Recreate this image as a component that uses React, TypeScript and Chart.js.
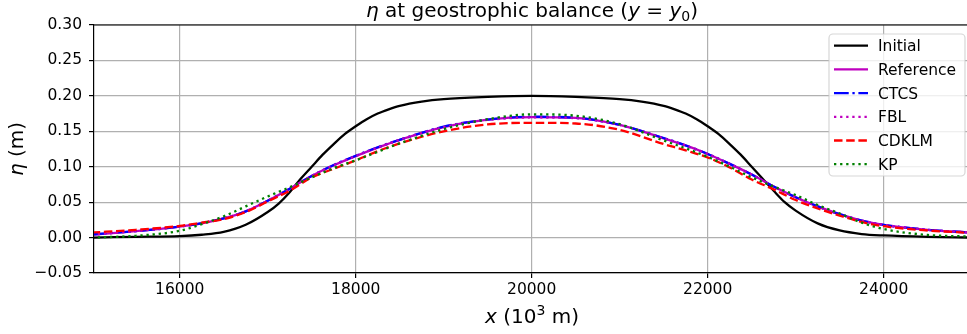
import React, { useEffect, useRef } from 'react';
import { Chart, registerables } from 'chart.js';

Chart.register(...registerables);

// ---- data ----
const xInitial = [15000, 15500, 16000, 16250, 16500, 16750, 17000, 17125, 17250, 17375, 17500, 17625, 17750, 17875, 18000, 18125, 18250, 18375, 18500, 18750, 19000, 19500, 20000, 20500, 21000, 21250, 21500, 21625, 21750, 21875, 22000, 22125, 22250, 22375, 22500, 22625, 22750, 22875, 23000, 23250, 23500, 23750, 24000, 24500, 25000];
const initialEta = [0.000, 0.001, 0.002, 0.004, 0.008, 0.018, 0.036, 0.048, 0.064, 0.083, 0.100, 0.117, 0.132, 0.146, 0.157, 0.167, 0.175, 0.181, 0.186, 0.192, 0.1955, 0.1985, 0.200, 0.1985, 0.1955, 0.192, 0.186, 0.181, 0.175, 0.167, 0.157, 0.146, 0.132, 0.117, 0.100, 0.083, 0.066, 0.050, 0.038, 0.020, 0.010, 0.005, 0.003, 0.001, 0.000];

const xValues = [15000, 15500, 16000, 16250, 16500, 16750, 17000, 17250, 17500, 17750, 18000, 18250, 18500, 19000, 19500, 20000, 20500, 21000, 21500, 21750, 22000, 22250, 22500, 22750, 23000, 23250, 23500, 23750, 24000, 24500, 25000];
const referenceEta = [0.004, 0.009, 0.0155, 0.020, 0.027, 0.037, 0.052, 0.069, 0.087, 0.102, 0.115, 0.127, 0.138, 0.156, 0.1665, 0.170, 0.169, 0.159, 0.140, 0.130, 0.118, 0.104, 0.089, 0.072, 0.057, 0.044, 0.033, 0.024, 0.018, 0.011, 0.007];
const ctcsEta = [0.0045, 0.009, 0.0155, 0.0205, 0.027, 0.037, 0.052, 0.069, 0.087, 0.1025, 0.1155, 0.1275, 0.138, 0.1565, 0.1665, 0.1705, 0.169, 0.159, 0.1405, 0.130, 0.118, 0.104, 0.089, 0.072, 0.057, 0.044, 0.033, 0.024, 0.018, 0.011, 0.007];
const fblEta = [0.004, 0.009, 0.0155, 0.020, 0.027, 0.037, 0.052, 0.069, 0.087, 0.102, 0.115, 0.127, 0.138, 0.156, 0.166, 0.1695, 0.1685, 0.159, 0.140, 0.130, 0.118, 0.104, 0.089, 0.072, 0.057, 0.044, 0.033, 0.024, 0.018, 0.011, 0.007];
const cdklmEta = [0.007, 0.011, 0.0164, 0.021, 0.026, 0.036, 0.051, 0.066, 0.085, 0.097, 0.109, 0.122, 0.133, 0.150, 0.1597, 0.162, 0.161, 0.152, 0.132, 0.123, 0.113, 0.099, 0.082, 0.068, 0.053, 0.041, 0.031, 0.022, 0.016, 0.010, 0.0065];
const kpEta = [0.000, 0.0025, 0.0095, 0.019, 0.030, 0.044, 0.058, 0.071, 0.085, 0.098, 0.109, 0.121, 0.133, 0.153, 0.167, 0.174, 0.172, 0.160, 0.137, 0.126, 0.114, 0.100, 0.085, 0.072, 0.060, 0.046, 0.034, 0.021, 0.012, 0.0037, 0.0015];

const seriesLabels = ['Initial', 'Reference', 'CTCS', 'FBL', 'CDKLM', 'KP'];
const xTicks = [16000, 18000, 20000, 22000, 24000];
const xTickLabels = ['16000', '18000', '20000', '22000', '24000'];
const yTicks = [-0.05, 0, 0.05, 0.1, 0.15, 0.2, 0.25, 0.3];
const yTickLabels = ['\u22120.05', '0.00', '0.05', '0.10', '0.15', '0.20', '0.25', '0.30'];
const xMin = 15026;
const xMax = 24947;
const yMin = -0.05;
const yMax = 0.3;

const FONT = '"DejaVu Sans", sans-serif';
const LW = 2.3;

type Run = { text: string; font: string; dy?: number };

function drawRuns(ctx: CanvasRenderingContext2D, runs: Run[], x: number, y: number) {
  let total = 0;
  for (const r of runs) {
    ctx.font = r.font;
    total += ctx.measureText(r.text).width;
  }
  let cx = x - total / 2;
  for (const r of runs) {
    ctx.font = r.font;
    ctx.fillText(r.text, cx, y + (r.dy || 0));
    cx += ctx.measureText(r.text).width;
  }
}

const decorPlugin = {
  id: 'decor',
  afterDraw(chart: any) {
    const ctx: CanvasRenderingContext2D = chart.ctx;
    const a = chart.chartArea;
    ctx.save();
    // top spine
    ctx.strokeStyle = '#000';
    ctx.lineWidth = 1.2;
    ctx.setLineDash([]);
    ctx.beginPath();
    ctx.moveTo(a.left - 0.6, a.top);
    ctx.lineTo(a.right, a.top);
    ctx.stroke();

    // legend
    const bx = 829, by = 34, bw = 136, bh = 142, rad = 4;
    ctx.beginPath();
    ctx.moveTo(bx + rad, by);
    ctx.lineTo(bx + bw - rad, by);
    ctx.arcTo(bx + bw, by, bx + bw, by + rad, rad);
    ctx.lineTo(bx + bw, by + bh - rad);
    ctx.arcTo(bx + bw, by + bh, bx + bw - rad, by + bh, rad);
    ctx.lineTo(bx + rad, by + bh);
    ctx.arcTo(bx, by + bh, bx, by + bh - rad, rad);
    ctx.lineTo(bx, by + rad);
    ctx.arcTo(bx, by, bx + rad, by, rad);
    ctx.closePath();
    ctx.fillStyle = 'rgba(255,255,255,0.8)';
    ctx.fill();
    ctx.strokeStyle = 'rgba(204,204,204,0.8)';
    ctx.lineWidth = 1.2;
    ctx.stroke();

    const rowY0 = 45.7, rowStep = 23.7;
    chart.data.datasets.forEach((ds: any, i: number) => {
      const ry = rowY0 + i * rowStep;
      ctx.strokeStyle = ds.borderColor;
      ctx.lineWidth = ds.borderWidth;
      ctx.setLineDash(ds.borderDash || []);
      ctx.lineCap = 'butt';
      ctx.beginPath();
      ctx.moveTo(834, ry);
      ctx.lineTo(868, ry);
      ctx.stroke();
      ctx.setLineDash([]);
      ctx.fillStyle = '#000';
      ctx.font = `15.5px ${FONT}`;
      ctx.textAlign = 'left';
      ctx.textBaseline = 'alphabetic';
      ctx.fillText(ds.label, 878, ry + 5.6);
    });

    // title
    ctx.fillStyle = '#000';
    ctx.textAlign = 'left';
    ctx.textBaseline = 'alphabetic';
    const big = `20px ${FONT}`;
    const bigI = `italic 20px ${FONT}`;
    const small = `14px ${FONT}`;
    drawRuns(ctx, [
      { text: '\u03b7', font: bigI },
      { text: ' at geostrophic balance (', font: big },
      { text: 'y', font: bigI },
      { text: ' = ', font: big },
      { text: 'y', font: bigI },
      { text: '0', font: small, dy: 4 },
      { text: ')', font: big },
    ], 532, 16.7);

    // x label
    drawRuns(ctx, [
      { text: 'x', font: bigI },
      { text: ' (10', font: big },
      { text: '3', font: small, dy: -8 },
      { text: ' m)', font: big },
    ], 532, 322.7);

    // y label
    ctx.translate(22.5, 149);
    ctx.rotate(-Math.PI / 2);
    drawRuns(ctx, [
      { text: '\u03b7', font: bigI },
      { text: ' (m)', font: big },
    ], 0, 0);
    ctx.restore();
  },
};

function toPoints(xs: number[], ys: number[]) {
  return xs.map((x, i) => ({ x, y: ys[i] }));
}

export default function App() {
  const ref = useRef<HTMLCanvasElement | null>(null);

  useEffect(() => {
    if (!ref.current) return;
    const styles = [
      { color: '#000000', dash: [] as number[], xs: xInitial, data: initialEta },
      { color: '#bf00bf', dash: [] as number[], xs: xValues, data: referenceEta },
      { color: '#0000ff', dash: [6.4 * LW, 1.6 * LW, 1 * LW, 1.6 * LW], xs: xValues, data: ctcsEta },
      { color: '#bf00bf', dash: [1 * LW, 1.65 * LW], xs: xValues, data: fblEta },
      { color: '#ff0000', dash: [3.7 * LW, 1.6 * LW], xs: xValues, data: cdklmEta },
      { color: '#008000', dash: [1 * LW, 1.65 * LW], xs: xValues, data: kpEta },
    ];
    const datasets = styles.map((s, i) => ({
      label: seriesLabels[i],
      data: toPoints(s.xs, s.data),
      borderColor: s.color,
      backgroundColor: s.color,
      borderWidth: LW,
      borderDash: s.dash,
      borderCapStyle: 'butt' as const,
      pointRadius: 0,
      fill: false,
      cubicInterpolationMode: 'monotone' as const,
      order: styles.length - i,
    }));

    const chart = new Chart(ref.current, {
      type: 'line',
      data: { datasets },
      options: {
        animation: false,
        responsive: false,
        devicePixelRatio: 1,
        parsing: false,
        layout: { padding: { top: 25, left: 0, right: 0, bottom: 0 } },
        plugins: {
          legend: { display: false },
          title: { display: false },
          tooltip: { enabled: false },
        },
        scales: {
          x: {
            type: 'linear',
            min: xMin,
            max: xMax,
            afterBuildTicks: (s: any) => { s.ticks = xTicks.map((v) => ({ value: v })); },
            afterFit: (s: any) => { s.height = 61; },
            ticks: {
              autoSkip: false,
              maxRotation: 0,
              padding: 3,
              color: '#000',
              font: { family: FONT, size: 15.5 },
              callback: (v: any) => {
                const i = xTicks.indexOf(Number(v));
                return i >= 0 ? xTickLabels[i] : '';
              },
            },
            grid: { color: '#b0b0b0', lineWidth: 1.2, tickColor: '#000', tickLength: 5, tickWidth: 1.2 },
            border: { display: true, color: '#000', width: 1.2 },
          },
          y: {
            type: 'linear',
            min: yMin,
            max: yMax,
            afterBuildTicks: (s: any) => { s.ticks = yTicks.map((v) => ({ value: v })); },
            afterFit: (s: any) => { s.width = 94; },
            ticks: {
              autoSkip: false,
              padding: 7,
              color: '#000',
              font: { family: FONT, size: 15.5 },
              callback: (v: any) => {
                let best = 0;
                yTicks.forEach((t, i) => { if (Math.abs(t - Number(v)) < Math.abs(yTicks[best] - Number(v))) best = i; });
                return yTickLabels[best];
              },
            },
            grid: { color: '#b0b0b0', lineWidth: 1.2, tickColor: '#000', tickLength: 5, tickWidth: 1.2 },
            border: { display: true, color: '#000', width: 1.2 },
          },
        },
      },
      plugins: [decorPlugin],
    } as any);
    return () => chart.destroy();
  }, []);

  return (
    <div style={{ position: 'absolute', left: 0, top: 0, width: 967, height: 334, background: '#fff' }}>
      <canvas ref={ref} width={967} height={334} style={{ display: 'block' }} />
    </div>
  );
}
